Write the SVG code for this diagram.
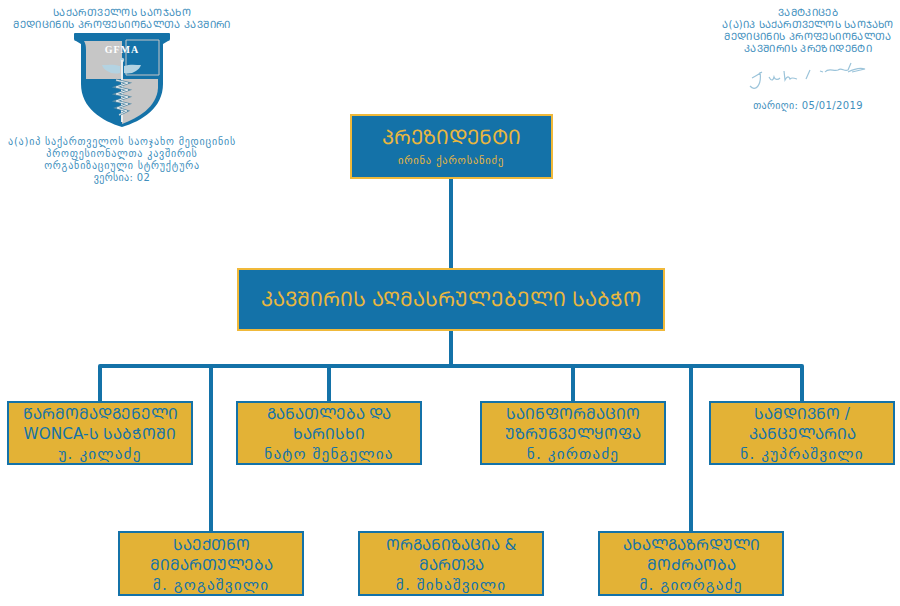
<svg xmlns="http://www.w3.org/2000/svg" width="900" height="606" viewBox="0 0 900 606">
<style>
text{font-family:"DejaVu Sans","Noto Sans",sans-serif;text-anchor:middle}
.h{font-size:10px;fill:#3f8fbd;letter-spacing:.35px}
.l{font-size:10px;fill:#3f8fbd;letter-spacing:.8px}
.blue{fill:#1472a8;stroke:#f0b93a;stroke-width:2}
.gold{fill:#e3b236;stroke:#1472a8;stroke-width:2}
.n{font-size:15.3px;fill:#1472a8}
.p{font-size:15.3px;fill:#1472a8;letter-spacing:1.1px}
.c{fill:none;stroke:#1472a8;stroke-width:4;stroke-linejoin:round}
</style>
<rect width="900" height="606" fill="#fff"/>
<g id="header-left">
<text class="h" x="122" y="16">ᲡᲐᲥᲐᲠᲗᲕᲔᲚᲝᲡ ᲡᲐᲝᲯᲐᲮᲝ</text>
<text class="h" x="122" y="28">ᲛᲔᲓᲘᲪᲘᲜᲘᲡ ᲞᲠᲝᲤᲔᲡᲘᲝᲜᲐᲚᲗᲐ ᲙᲐᲕᲨᲘᲠᲘ</text>
<text class="l" x="122" y="145">ა(ა)იპ საქართველოს საოჯახო მედიცინის</text>
<text class="l" x="122" y="157">პროფესიონალთა კავშირის</text>
<text class="l" x="122" y="169">ორგანიზაციული სტრუქტურა</text>
<text class="h" x="122" y="181">ვერსია: 02</text>
</g>
<g id="logo">
<path d="M74 34Q74 33 75 33H169Q170 33 170 34V39Q170 41 168 41L163 44V84C163 108 142 121 122 127C102 121 81 108 81 84V44L76 41Q74 41 74 39Z" fill="#1472a8"/>
<path d="M84 41H122V79H86V50Q86 44 84 41Z" fill="#c6c6c6"/>
<path d="M122 79H158V88C157 107 138 118 122 124Z" fill="#c6c6c6"/>
<path d="M126 40H159V75H126Z" fill="none" stroke="#c6c6c6"/>
<path d="M120 66C114 64 107 65 102 65C104 71 112 75 120 73ZM124 66C130 64 136 65 141 65C139 71 131 75 124 73Z" fill="#b4d3e2"/>
<circle cx="122" cy="60" r="2.2" fill="#b4d3e2"/>
<path d="M122 60V122" stroke="#e9eef0" stroke-width="2"/>
<path d="M116 80L128 83L116 87L128 90L116 94L128 97L116 101L128 104L117 108L127 111L119 115" fill="none" stroke="#5c8ea8" stroke-width="2.4"/>
<path d="M116 80L128 83L116 87L128 90L116 94L128 97L116 101L128 104L117 108L127 111L119 115" fill="none" stroke="#e4eaed" stroke-width="1"/>
<text x="122" y="52.500" style="font-family:'Liberation Serif',serif;font-size:10px;font-weight:700;fill:#fff;letter-spacing:1px">GFMA</text>
</g>
<g id="header-right">
<text class="h" x="808" y="16">ᲕᲐᲛᲢᲙᲘᲪᲔᲑ</text>
<text class="h" x="808" y="28" style="letter-spacing:.2px">Ა(Ა)ᲘᲞ ᲡᲐᲥᲐᲠᲗᲕᲔᲚᲝᲡ ᲡᲐᲝᲯᲐᲮᲝ</text>
<text class="h" x="808" y="40">ᲛᲔᲓᲘᲪᲘᲜᲘᲡ ᲞᲠᲝᲤᲔᲡᲘᲝᲜᲐᲚᲗᲐ</text>
<text class="h" x="808" y="52">ᲙᲐᲕᲨᲘᲠᲘᲡ ᲞᲠᲔᲖᲘᲓᲔᲜᲢᲘ</text>
<path d="M750 86C755 92 762 86 760 72M752 78C756 76 759 74 762 72M769 77C771 81 773 81 774 77C775 80 778 80 780 78M784 71L785 80C787 76 789 76 790 79C792 77 794 78 797 79M806 79L810 70M820 71L823 72M825 72C829 67 834 72 838 70C842 67 844 72 848 70L851 63M848 72C852 70 858 67 865 69L852 72" fill="none" stroke="#9cc4da" stroke-width="1.2"/>
<text class="h" x="808" y="109">თარიღი: 05/01/2019</text>
</g>
<g id="connectors">
<path class="c" d="M451 178V268M451 330V366"/>
<path class="c" d="M100 402V366H802V402"/>
<path class="c" d="M211 366V532M329 366V402M573 366V402M691 366V532"/>
</g>
<g id="president">
<rect class="blue" x="351" y="115" width="201" height="63"/>
<text x="451" y="144" style="font-size:20px;fill:#e9b73f">ᲞᲠᲔᲖᲘᲓᲔᲜᲢᲘ</text>
<text x="451" y="164" style="font-size:10.500px;fill:#e9b73f;letter-spacing:.8px">ირინა ქაროსანიძე</text>
</g>
<g id="council">
<rect class="blue" x="238" y="269" width="426" height="61"/>
<text x="451" y="306" style="font-size:20.2px;fill:#e9b73f">ᲙᲐᲕᲨᲘᲠᲘᲡ ᲐᲦᲛᲐᲡᲠᲣᲚᲔᲑᲔᲚᲘ ᲡᲐᲑᲭᲝ</text>
</g>
<g id="wonca">
<rect class="gold" x="8" y="402" width="184" height="62"/>
<text class="n" x="100" y="419">ᲬᲐᲠᲛᲝᲛᲐᲓᲒᲔᲜᲔᲚᲘ</text>
<text class="n" x="100" y="439">WONCA-Ს ᲡᲐᲑᲭᲝᲨᲘ</text>
<text class="p" x="100" y="459">უ. კილაძე</text>
</g>
<g id="education">
<rect class="gold" x="237" y="402" width="184" height="62"/>
<text class="n" x="329" y="419">ᲒᲐᲜᲐᲗᲚᲔᲑᲐ ᲓᲐ</text>
<text class="n" x="329" y="439">ᲮᲐᲠᲘᲡᲮᲘ</text>
<text class="p" x="329" y="459">ნატო შენგელია</text>
</g>
<g id="it">
<rect class="gold" x="481" y="402" width="184" height="62"/>
<text class="n" x="573" y="419">ᲡᲐᲘᲜᲤᲝᲠᲛᲐᲪᲘᲝ</text>
<text class="n" x="573" y="439">ᲣᲖᲠᲣᲜᲕᲔᲚᲧᲝᲤᲐ</text>
<text class="p" x="573" y="459">ნ. კირთაძე</text>
</g>
<g id="office">
<rect class="gold" x="710" y="402" width="184" height="62"/>
<text class="n" x="802" y="419">ᲡᲐᲛᲓᲘᲕᲜᲝ /</text>
<text class="n" x="802" y="439">ᲙᲐᲜᲪᲔᲚᲐᲠᲘᲐ</text>
<text class="p" x="802" y="459">ნ. კუპრაშვილი</text>
</g>
<g id="nursing">
<rect class="gold" x="119" y="532" width="184" height="63"/>
<text class="n" x="211" y="550">ᲡᲐᲔᲥᲗᲜᲝ</text>
<text class="n" x="211" y="570">ᲛᲘᲛᲐᲠᲗᲣᲚᲔᲑᲐ</text>
<text class="p" x="211" y="590">მ. გოგაშვილი</text>
</g>
<g id="organisation">
<rect class="gold" x="359" y="532" width="184" height="63"/>
<text class="n" x="451" y="550">ᲝᲠᲒᲐᲜᲘᲖᲐᲪᲘᲐ &amp;</text>
<text class="n" x="451" y="570">ᲛᲐᲠᲗᲕᲐ</text>
<text class="p" x="451" y="590">მ. შიხაშვილი</text>
</g>
<g id="youth">
<rect class="gold" x="599" y="532" width="184" height="63"/>
<text class="n" x="691" y="550">ᲐᲮᲐᲚᲒᲐᲖᲠᲓᲣᲚᲘ</text>
<text class="n" x="691" y="570">ᲛᲝᲫᲠᲐᲝᲑᲐ</text>
<text class="p" x="691" y="590">მ. გიორგაძე</text>
</g>
</svg>
